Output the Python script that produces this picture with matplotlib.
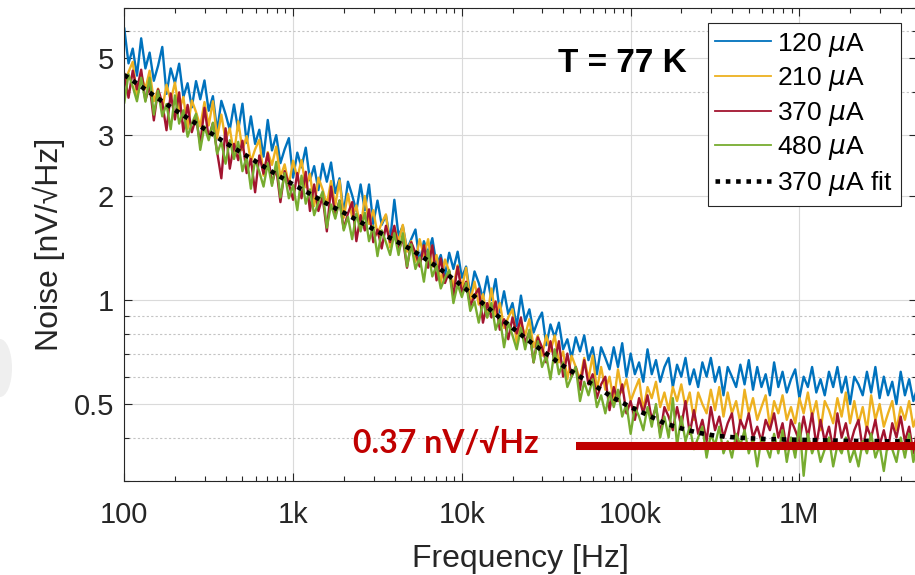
import numpy as np
import matplotlib
matplotlib.use('Agg')
import matplotlib.pyplot as plt
from matplotlib.ticker import LogLocator, NullFormatter
from matplotlib.patches import Ellipse

plt.rcParams['font.family'] = ['Liberation Sans', 'DejaVu Sans']

# measured spectra, 0.025 decade steps from 100 Hz to 5 MHz
freq = 10 ** np.linspace(2.0, 6.7, 189)

noise_120uA = [
    6.1, 4.84, 5.34, 4.46, 5.72, 4.68, 5.2, 4.31,
    4.76, 5.4, 3.95, 4.68, 4.24, 4.83, 3.87, 4.24,
    3.61, 4.3, 3.81, 4.32, 3.53, 3.89, 3.08, 3.77,
    3.45, 3.11, 3.68, 3.1, 3.7, 2.85, 3.4, 2.83,
    3.11, 2.6, 3.32, 2.71, 3.0, 2.49, 2.73, 2.94,
    2.26, 2.67, 2.42, 2.76, 2.22, 2.44, 2.08, 2.48,
    2.2, 2.5, 2.04, 2.25, 1.78, 2.2, 2.01, 1.81,
    2.16, 1.82, 2.16, 1.66, 1.94, 1.65, 1.76, 1.49,
    1.95, 1.53, 1.64, 1.4, 1.5, 1.6, 1.28, 1.48,
    1.36, 1.51, 1.26, 1.35, 1.18, 1.37, 1.23, 1.38,
    1.16, 1.25, 1.03, 1.21, 1.12, 1.01, 1.17, 1.0,
    1.15, .92, 1.06, .91, .98, .84, 1.03, .87,
    .94, .805, .87, .92, .74, .85, .78, .86,
    .72, .77, .68, .78, .71, .79, .67, .73,
    .61, .73, .68, .63, .73, .64, .75, .60,
    .70, .61, .66, .58, .72, .61, .67, .58,
    .64, .68, .56, .65, .60, .68, .57, .63,
    .56, .66, .60, .68, .58, .64, .53, .64,
    .60, .56, .65, .57, .67, .55, .64, .56,
    .61, .53, .66, .56, .62, .54, .59, .63,
    .52, .60, .56, .64, .54, .59, .53, .62,
    .56, .64, .54, .60, .50, .60, .57, .53,
    .62, .54, .64, .52, .60, .53, .58, .50,
    .62, .53, .59, .51, .56]

noise_210uA = [
    4.2, 4.57, 4.89, 3.84, 4.49, 4.08, 4.61, 3.76,
    4.09, 3.56, 4.2, 3.77, 4.26, 3.53, 3.87, 3.13,
    3.78, 3.5, 3.18, 3.74, 3.2, 3.76, 2.94, 3.44,
    2.9, 3.14, 2.64, 3.29, 2.72, 2.98, 2.51, 2.73,
    2.91, 2.29, 2.68, 2.46, 2.78, 2.27, 2.47, 2.15,
    2.53, 2.26, 2.54, 2.12, 2.32, 1.87, 2.26, 2.09,
    1.89, 2.21, 1.88, 2.22, 1.73, 2.03, 1.73, 1.88,
    1.6, 2.0, 1.66, 1.82, 1.55, 1.67, 1.77, 1.42,
    1.62, 1.48, 1.65, 1.38, 1.48, 1.29, 1.5, 1.34,
    1.5, 1.25, 1.35, 1.12, 1.31, 1.21, 1.1, 1.26,
    1.08, 1.24, .99, 1.13, .97, 1.04, .89, 1.08,
    .90, .98, .83, .89, .94, .75, .86, .79,
    .88, .73, .79, .69, .79, .71, .79, .66,
    .71, .59, .69, .64, .59, .68, .59, .69,
    .55, .64, .55, .60, .51, .63, .54, .59,
    .51, .55, .59, .48, .56, .52, .58, .49,
    .54, .48, .56, .51, .57, .49, .54, .45,
    .54, .50, .47, .55, .48, .56, .46, .54,
    .47, .51, .44, .55, .47, .52, .45, .49,
    .53, .43, .51, .47, .53, .45, .49, .44,
    .52, .47, .54, .46, .51, .42, .51, .48,
    .44, .52, .46, .54, .44, .51, .44, .49,
    .42, .53, .45, .50, .43, .47, .51, .42,
    .49, .45, .51, .43, .47]

noise_370uA = [
    4.51, 3.85, 4.61, 4.07, 4.64, 3.78, 4.19, 3.31,
    4.07, 3.72, 3.1, 3.96, 3.33, 3.99, 3.07, 3.67,
    3.06, 3.37, 2.82, 3.6, 2.95, 3.25, 2.68, 2.25,
    3.14, 2.4, 2.83, 2.54, 2.89, 2.33, 2.56, 2.05,
    2.62, 2.32, 2.66, 2.17, 2.41, 1.92, 2.36, 2.17,
    1.95, 2.33, 1.97, 2.35, 1.81, 2.16, 1.81, 1.99,
    1.58, 2.13, 1.75, 1.94, 1.61, 1.78, 1.92, 1.48,
    1.76, 1.59, 1.83, 1.47, 1.6, 1.41, 1.64, 1.47,
    1.64, 1.39, 1.51, 1.24, 1.47, 1.37, 1.25, 1.44,
    1.24, 1.44, 1.14, 1.32, 1.12, 1.21, 1.03, 1.25,
    1.05, 1.13, .96, 1.03, 1.08, .86, .98, .89,
    .99, .82, .88, .77, .89, .80, .89, .75,
    .81, .66, .78, .73, .66, .76, .66, .76,
    .60, .70, .60, .64, .55, .67, .57, .61,
    .52, .57, .60, .48, .56, .51, .57, .47,
    .51, .45, .52, .47, .53, .45, .49, .41,
    .49, .46, .42, .49, .43, .51, .41, .48,
    .41, .45, .39, .49, .42, .46, .40, .44,
    .47, .38, .45, .42, .47, .40, .43, .39,
    .45, .42, .47, .40, .44, .37, .45, .42,
    .39, .46, .40, .47, .38, .45, .39, .43,
    .37, .47, .40, .44, .38, .42, .45, .37,
    .43, .40, .45, .38, .42, .37, .44, .40,
    .46, .39, .43, .36, .43]

noise_480uA = [
    3.73, 4.5, 4.15, 3.76, 4.4, 3.75, 4.4, 3.44,
    4.03, 3.4, 3.69, 3.12, 3.91, 3.24, 3.54, 2.97,
    3.24, 3.46, 2.72, 3.18, 2.9, 3.26, 2.65, 2.87,
    2.48, 2.9, 2.56, 2.87, 2.36, 2.6, 2.1, 2.55,
    2.35, 2.13, 2.49, 2.14, 2.51, 1.98, 2.33, 1.97,
    2.15, 1.82, 2.29, 1.9, 2.09, 1.76, 1.92, 2.06,
    1.62, 1.89, 1.72, 1.94, 1.59, 1.74, 1.5, 1.78,
    1.58, 1.79, 1.48, 1.64, 1.34, 1.59, 1.47, 1.35,
    1.56, 1.35, 1.56, 1.25, 1.45, 1.23, 1.33, 1.13,
    1.39, 1.17, 1.26, 1.08, 1.16, 1.22, .98, 1.11,
    1.02, 1.12, .93, .99, .86, .99, .89, .98,
    .82, .89, .73, .86, .79, .72, .83, .72,
    .82, .66, .76, .64, .69, .59, .72, .61,
    .66, .56, .60, .64, .51, .58, .53, .59,
    .49, .53, .47, .54, .49, .55, .46, .50,
    .41, .49, .46, .42, .49, .43, .50, .40,
    .46, .40, .52, .38, .46, .39, .43, .37,
    .40, .43, .35, .41, .38, .43, .36, .39,
    .35, .41, .38, .42, .36, .40, .33, .40,
    .38, .35, .41, .36, .42, .34, .40, .35,
    .44, .31, .41, .36, .39, .34, .37, .40,
    .33, .38, .36, .40, .34, .37, .33, .39,
    .36, .41, .35, .38, .32, .39, .37, .34,
    .40, .35, .41, .34, .39]

# model fit of the 370 uA trace, every 0.1 decade
fit_freq = 10 ** np.linspace(2.0, 6.7, 48)
fit_370uA = [
    4.48, 4.15, 3.83, 3.55, 3.3, 3.07, 2.85, 2.66, 2.48, 2.31,
    2.16, 2.03, 1.9, 1.79, 1.68, 1.58, 1.49, 1.40, 1.3, 1.2,
    1.10, 1.0, 0.91, 0.83, 0.76, 0.70, 0.645, 0.60, 0.56, 0.52,
    0.49, 0.465, 0.44, 0.425, 0.413, 0.405, 0.401, 0.398, 0.396, 0.395,
    0.394, 0.393, 0.392, 0.391, 0.391, 0.39, 0.39, 0.39]

labels = ['120 $\\mu$A', '210 $\\mu$A', '370 $\\mu$A', '480 $\\mu$A']
colors = ['#0072BD', '#EDB120', '#A2142F', '#77AC30']

floor_level = 0.378
floor_band = [4.75e4, 5e6]

xticks = [1e2, 1e3, 1e4, 1e5, 1e6]
xticklabels = ['100', '1k', '10k', '100k', '1M']
yticks = [0.5, 1, 2, 3, 5]
yticklabels = ['0.5', '1', '2', '3', '5']
yminor = [0.3, 0.4, 0.6, 0.7, 0.8, 0.9, 4, 6, 7]

dark = '#262626'

fig = plt.figure(figsize=(9.15, 5.75), dpi=100)
ax = fig.add_axes([124.3/915, 1-480.7/575, (917.4-124.3)/915, (480.7-8)/575])

for vals, c, lab in zip([noise_120uA, noise_210uA, noise_370uA, noise_480uA], colors, labels):
    ax.plot(freq, vals, color=c, lw=1.7, label=lab)
ax.plot(fit_freq, fit_370uA, color='k', lw=3.3, ls=(0, (1, 1.25)), label='370 $\\mu$A fit')
ax.plot(floor_band, [floor_level, floor_level], color='#C00000', lw=5.8,
        solid_capstyle='butt', zorder=5)

ax.set_xscale('log')
ax.set_yscale('log')
ax.set_xlim(100, 5e6)
ax.set_ylim(0.3, 7)
ax.set_xticks(xticks)
ax.set_xticklabels(xticklabels)
ax.xaxis.set_minor_locator(LogLocator(base=10, subs=np.arange(2, 10)))
ax.xaxis.set_minor_formatter(NullFormatter())
ax.set_yticks(yticks)
ax.set_yticklabels(yticklabels)
ax.set_yticks(yminor, minor=True)
ax.yaxis.set_minor_formatter(NullFormatter())

ax.set_axisbelow(True)
ax.grid(True, which='major', color='#dadada', lw=0.8)
ax.yaxis.grid(True, which='minor', color='#c4c4c4', lw=0.8, ls=(0, (2, 2)))

ax.tick_params(which='both', direction='in', top=True, right=True, color=dark,
               width=0.8, labelcolor=dark, labelsize=21)
ax.tick_params(which='major', length=6)
ax.tick_params(which='minor', length=3.5)
ax.tick_params(axis='x', pad=14.5)
ax.tick_params(axis='y', pad=7.5)
for s in ax.spines.values():
    s.set_color(dark)
    s.set_linewidth(0.8)

ax.set_xlabel('Frequency [Hz]', fontsize=23, color=dark)
ax.xaxis.set_label_coords(0.5, -0.134)
ax.set_ylabel('Noise [nV/\u221aHz]', fontsize=23, color=dark)
ax.yaxis.set_label_coords(-0.0754, 0.5)

ax.text(0.547, 0.865, 'T = 77 K', transform=ax.transAxes, fontsize=24,
        fontweight='bold', ha='left', va='baseline', color='black', zorder=6)
ax.text(0.2884, 0.058, '0.37 nV/\u221aHz', transform=ax.transAxes, fontsize=23,
        fontweight='bold', color='#C00000', family=['Lato', 'DejaVu Sans'],
        ha='left', va='baseline', zorder=6)

leg = ax.legend(loc='upper right', bbox_to_anchor=(900.7/915, 1-22.7/575),
                bbox_transform=fig.transFigure, fontsize=19, frameon=True,
                fancybox=False, edgecolor=dark, framealpha=1, borderpad=0.3,
                labelspacing=0.25, handlelength=2.1, handletextpad=0.25,
                borderaxespad=0)
leg.get_frame().set_linewidth(0.8)
for h in leg.get_lines()[:4]:
    h.set_linewidth(1.3)

# faint grey smudge at the left edge of the original picture
fig.patches.append(Ellipse((0, 1-368/575), width=24/915, height=58/575,
                           transform=fig.transFigure, color='#efefef',
                           lw=0, zorder=0))

fig.savefig('out.png', dpi=100)
